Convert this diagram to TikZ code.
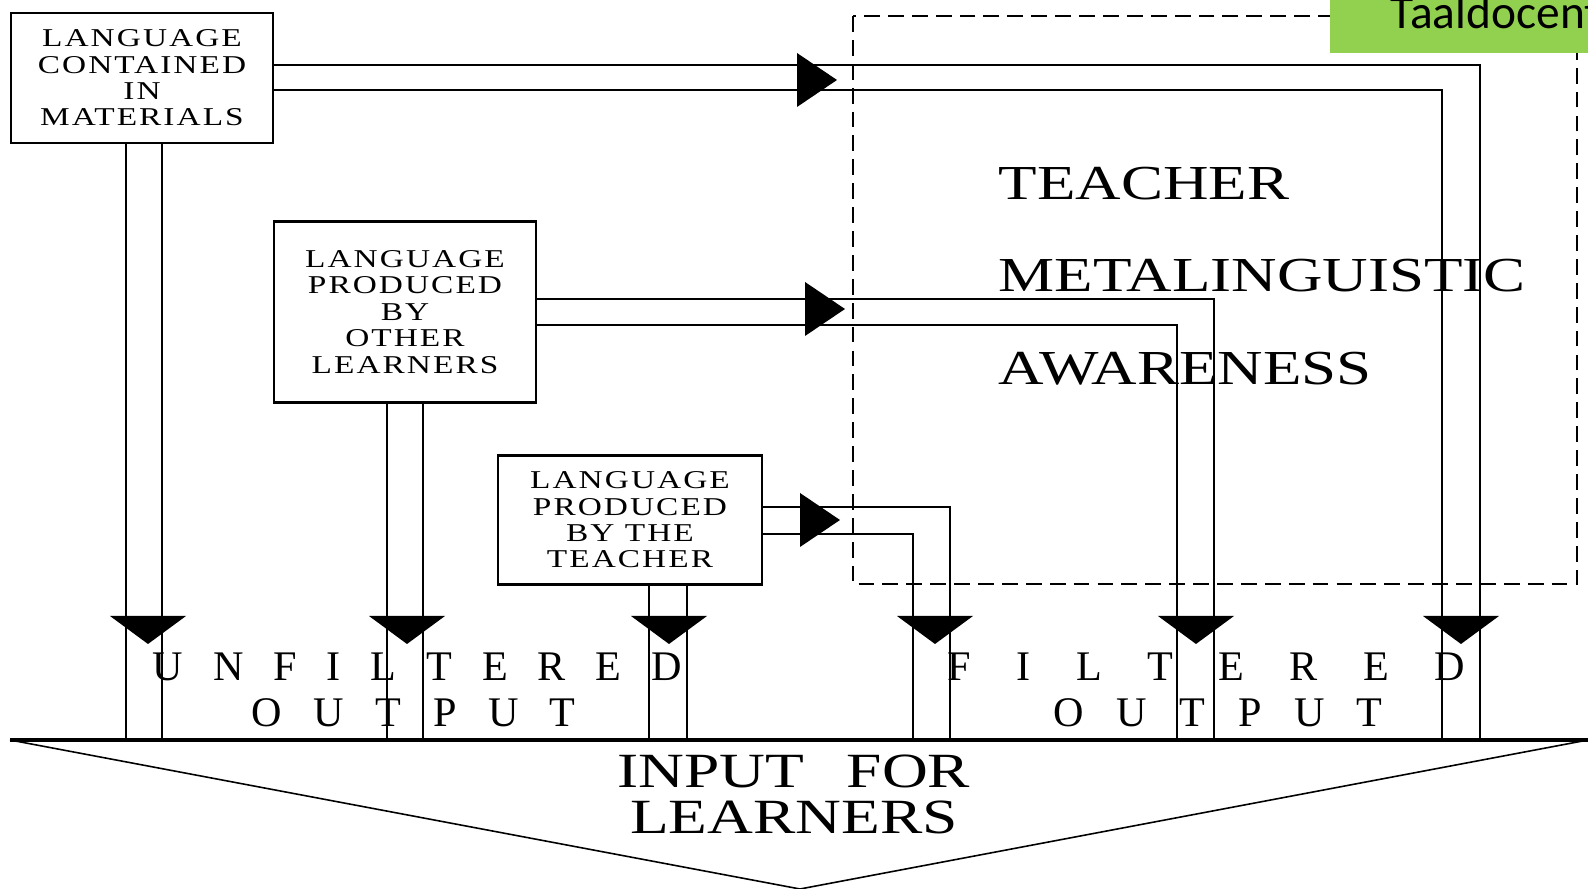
\documentclass[tikz,border=0pt]{standalone}
\usepackage{fontspec}
\setmainfont{Liberation Serif}
\newfontfamily\boxfont[FakeStretch=1.3,LetterSpace=8]{Liberation Serif}
\newfontfamily\widefont[FakeStretch=1.29]{Liberation Serif}
\newfontfamily\slidefont{Carlito}
\definecolor{slidegreen}{HTML}{92D050}
\tikzset{
  src/.style={draw, line width=0.6pt, align=center, inner sep=0pt,
    font=\boxfont\fontsize{7.3}{7.5}\selectfont},
  big/.style={anchor=base west, inner sep=0pt, font=\widefont\fontsize{13.9}{16}\selectfont},
  outlabel/.style={anchor=base west, inner sep=0pt, font=\fontsize{12}{14}\selectfont},
  wire/.style={line width=0.45pt},
}

\begin{document}
\begin{tikzpicture}[x=0.1mm, y=-0.1mm, wire]
  \useasboundingbox (0,0) rectangle (1588,889);
  % where the learners get it
  \coordinate (bl) at (10,740);
  \coordinate (br) at (1588,740);
  \coordinate (tip) at (800,889);
  % the teacher's filter
  \draw[line width=0.6pt, dash pattern=on 4.5pt off 2.3pt] (853,16) rectangle (1577,584);
  \fill[slidegreen] (1330,0) rectangle (1600,53);
  \node[anchor=base west, inner sep=0pt, font=\slidefont\fontsize{13.5}{16}\selectfont] (tag) at (1390,29) {Taaldocent};
  \node[big] (teach) at (998,200) {TEACHER};
  \node[big] (meta) at (998,292) {METALINGUISTIC};
  \node[big] (aware) at (998,385) {AWARENESS};
  % sources
  \node[src, minimum width=26.2mm, minimum height=13mm] (mat) at (142,78) {LANGUAGE\\CONTAINED\\IN\\MATERIALS};
  \node[src, minimum width=26.2mm, minimum height=18.1mm] (oth) at (405,312) {LANGUAGE\\PRODUCED\\BY\\OTHER\\LEARNERS};
  \node[src, minimum width=26.4mm, minimum height=12.9mm] (tea) at (630,520) {LANGUAGE\\PRODUCED\\BY THE\\TEACHER};
  % unfiltered
  \draw (mat.south -| 126,0) -- (bl -| 126,0);
  \draw (mat.south -| 162,0) -- (bl -| 162,0);
  \draw (oth.south -| 387,0) -- (bl -| 387,0);
  \draw (oth.south -| 423,0) -- (bl -| 423,0);
  \draw (tea.south -| 649,0) -- (bl -| 649,0);
  \draw (tea.south -| 687,0) -- (bl -| 687,0);
  % filtered
  \draw (mat.east |- 0,65) -| (bl -| 1480,0);
  \draw (mat.east |- 0,90) -| (bl -| 1442,0);
  \draw (oth.east |- 0,299) -| (bl -| 1214,0);
  \draw (oth.east |- 0,325) -| (bl -| 1177,0);
  \draw (tea.east |- 0,507) -| (bl -| 950,0);
  \draw (tea.east |- 0,534) -| (bl -| 913,0);
  \foreach \x/\y in {797/80, 805/309, 800/520}
    \fill (\x,\y-27) -- (\x+40,\y) -- (\x,\y+27) -- cycle;
  \foreach \x in {148,407,669,935,1196,1461}
    \fill (\x-38,616) -- (\x+38,616) -- (\x,644) -- cycle;
  \node[outlabel] (unf) at (152,681) {\makebox[52.9mm][s]{U N F I L T E R E D}};
  \node[outlabel] (unfout) at (251,727) {\makebox[32.4mm][s]{O U T P U T}};
  \node[outlabel] (fil) at (947,681) {\makebox[51.7mm][s]{F I L T E R E D}};
  \node[outlabel] (filout) at (1053,727) {\makebox[32.9mm][s]{O U T P U T}};
  % input
  \draw[line width=0.9pt] (bl) -- (br);
  \draw (bl) -- (tip) -- (br);
  \node[anchor=base, inner sep=0pt, font=\widefont\fontsize{14}{17}\selectfont] (inp) at (794,788) {INPUT\hspace{12pt}FOR};
  \node[anchor=base, inner sep=0pt, font=\widefont\fontsize{14}{17}\selectfont] (lrn) at (794,834) {LEARNERS};
\end{tikzpicture}
\end{document}
